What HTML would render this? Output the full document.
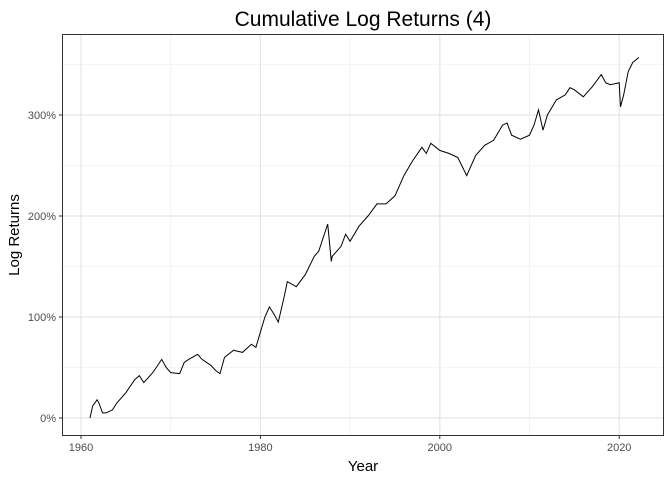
<!DOCTYPE html>
<html><head><meta charset="utf-8"><style>
body{margin:0;background:#fff}
text{font-family:"Liberation Sans",sans-serif}
</style></head><body>
<svg id="c" width="672" height="480">
<text x="363" y="26" text-anchor="middle" font-size="21" fill="#000">Cumulative Log Returns (4)</text>
<text x="363" y="471" text-anchor="middle" font-size="15" fill="#000">Year</text>
<text transform="translate(19,235) rotate(-90)" text-anchor="middle" font-size="15" fill="#000">Log Returns</text>
<g id="grid"></g><g id="ticks"></g>
<path id="line" fill="none" stroke="#000" stroke-width="1"/>
<rect x="62.5" y="34.5" width="601" height="401" fill="none" stroke="#333" stroke-width="1"/>
</svg>
<script>
const years=[1961,1961.3,1961.8,1962,1962.4,1962.8,1963.5,1964,1965,1966,1966.5,1967,1968,1969,1969.5,1970,1971,1971.5,1972,1973,1973.5,1974,1974.5,1975,1975.5,1976,1977,1978,1979,1979.5,1980,1980.5,1981,1981.5,1982,1982.7,1983,1984,1985,1986,1986.5,1987.5,1987.9,1988,1989,1989.5,1990,1991,1992,1993,1994,1995,1996,1997,1998,1998.5,1999,2000,2001,2002,2003,2004,2005,2006,2007,2007.5,2008,2009,2010,2010.5,2011,2011.5,2012,2013,2014,2014.5,2015,2016,2017,2018,2018.5,2019,2020,2020.15,2020.5,2021,2021.5,2022.2];
const values=[0,12,18,15,5,5,8,15,25,38,42,35,45,58,50,45,44,55,58,63,58,55,52,47,44,60,67,65,73,70,85,100,110,103,95,122,135,130,142,160,165,192,155,160,170,182,175,190,200,212,212,220,240,255,268,262,272,265,262,258,240,260,270,275,290,292,280,276,280,290,305,285,300,315,320,327,325,318,328,340,332,330,332,308,320,343,352,357];
const xTicks=[1960,1980,2000,2020];
const yTicks=[0,100,200,300];
const xs=y=>81+(y-1960)*8.97;
const ys=v=>418-v*1.01;
const NS="http://www.w3.org/2000/svg";
const grid=document.getElementById('grid'),tk=document.getElementById('ticks');
function ln(p,x1,y1,x2,y2,c,w){const l=document.createElementNS(NS,'line');l.setAttribute('x1',x1);l.setAttribute('y1',y1);l.setAttribute('x2',x2);l.setAttribute('y2',y2);l.setAttribute('stroke',c);l.setAttribute('stroke-width',w);p.appendChild(l);return l;}
function tx(x,y,s,a){const t=document.createElementNS(NS,'text');t.setAttribute('x',x);t.setAttribute('y',y);t.setAttribute('text-anchor',a);t.setAttribute('font-size','11');t.setAttribute('fill','#4d4d4d');t.textContent=s;tk.appendChild(t);return t;}
[1970,1990,2010].forEach(y=>{const l=ln(grid,xs(y),35,xs(y),435,'#f0f0f0',0.8);

});
[50,150,250,350].forEach(v=>{const l=ln(grid,63,ys(v),663,ys(v),'#f0f0f0',0.8);

});
xTicks.forEach(y=>{const l=ln(grid,xs(y),35,xs(y),435,'#e5e5e5',1.2);


ln(tk,xs(y),436,xs(y),439,'#333',1);
const t=tx(xs(y),451,String(y),'middle');

});
yTicks.forEach(v=>{const l=ln(grid,63,ys(v),663,ys(v),'#e5e5e5',1.2);


ln(tk,59,ys(v),62,ys(v),'#333',1);
const t=tx(56,ys(v)+4,v+'%','end');

});
document.getElementById('line').setAttribute('d',years.map((y,i)=>(i?'L':'M')+xs(y).toFixed(1)+','+ys(values[i]).toFixed(1)).join(''));
</script>
</body></html>
